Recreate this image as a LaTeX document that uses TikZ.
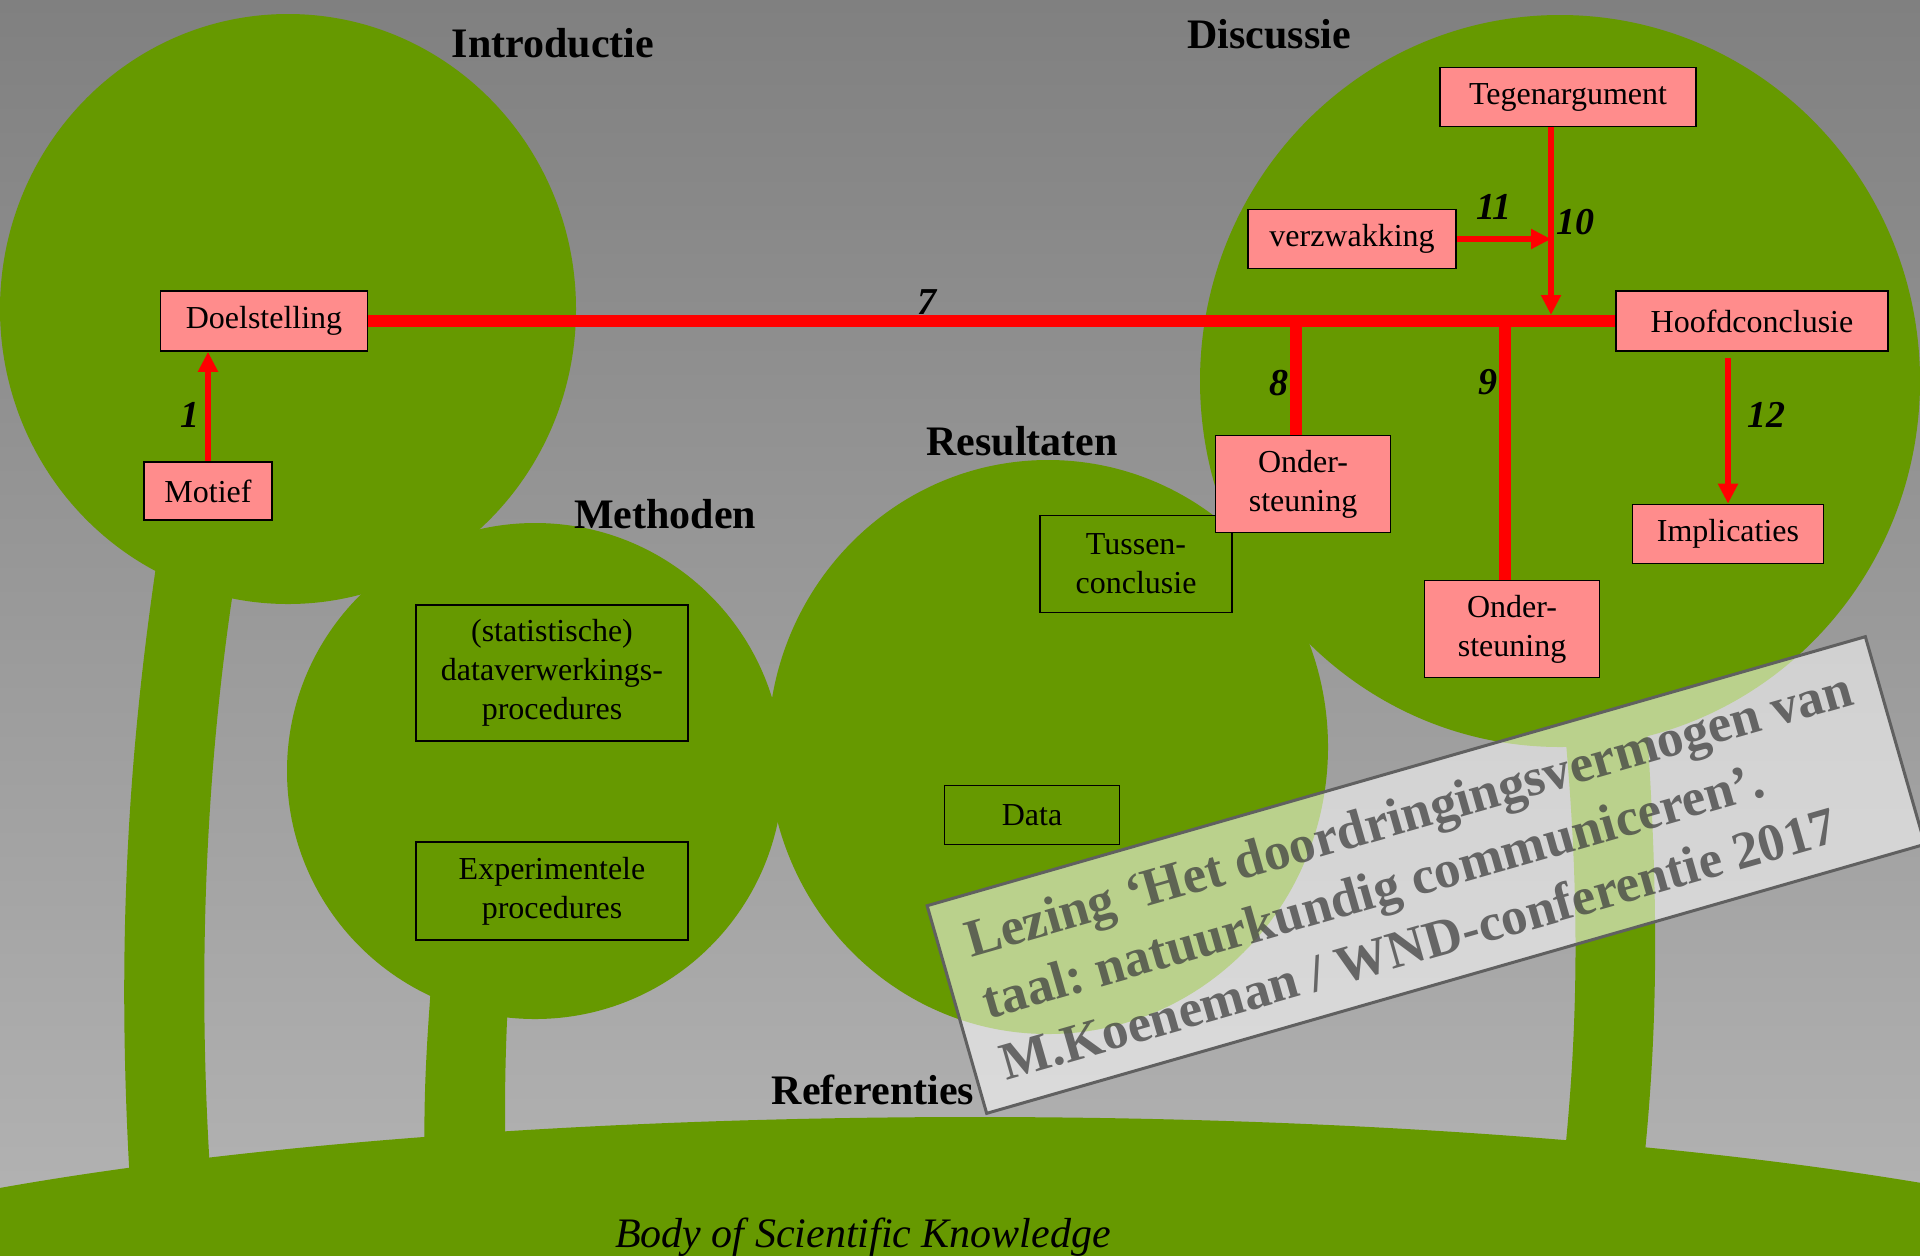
\documentclass[tikz,border=0pt]{standalone}
\usepackage{fontspec}
\setmainfont{Liberation Serif}
\usetikzlibrary{arrows.meta,calc}
\definecolor{leaf}{RGB}{102,153,0}
\definecolor{boxpink}{RGB}{255,140,140}
\definecolor{bgtop}{RGB}{128,128,128}
\definecolor{bgbot}{RGB}{180,180,180}
\definecolor{stamptext}{RGB}{64,64,64}
\definecolor{stampline}{RGB}{96,96,96}
\frenchspacing
\begin{document}
\begin{tikzpicture}[x=0.5pt,y=-0.5pt,
  sz/.style 2 args={minimum width=#1*0.5pt, minimum height=#2*0.5pt},
  pinkbox/.style={draw=black, line width=0.8pt, fill=boxpink, inner sep=0pt, align=center, font=\fontsize{16}{19.5}\selectfont},
  greenbox/.style={draw=black, line width=0.8pt, fill=leaf, inner sep=0pt, align=center, font=\fontsize{16}{19.5}\selectfont},
  header/.style={font=\fontsize{21}{25}\selectfont\bfseries, inner sep=0pt},
  num/.style={font=\fontsize{19}{22}\selectfont\bfseries\itshape, inner sep=0pt},
  thickred/.style={draw=red, line width=6pt},
  thinred/.style={draw=red, line width=3pt, -{Triangle[width=9.5pt,length=10pt]}},
  stampbox/.style={draw=stampline, line width=1.5pt, fill=white, fill opacity=0.55, text opacity=0.75, text=stamptext, align=left, inner xsep=10pt, font=\fontsize{26.5}{32}\selectfont\bfseries}
]
\useasboundingbox (0,0) rectangle (1920,1255);
\clip (0,0) rectangle (1920,1255);
\shade[top color=bgtop, bottom color=bgbot] (0,0) rectangle (1920,1255);

% crowns
\fill[leaf] (288,309) ellipse (288 and 295);
\fill[leaf] (1560,381) ellipse (360 and 366);
\fill[leaf] (535,771) ellipse (248 and 248);
\fill[leaf] (1048,747) ellipse (280 and 287);

% trunks
\fill[leaf] (160,540) .. controls (126,760) and (116,960) .. (131,1200) -- (212,1200) .. controls (196,980) and (205,760) .. (238,560) -- cycle;
\fill[leaf] (433,960) .. controls (426,1050) and (423,1100) .. (425,1180) -- (506,1180) .. controls (504,1100) and (505,1050) .. (510,960) -- cycle;
\fill[leaf] (1562,700) .. controls (1580,880) and (1580,1020) .. (1562,1180) -- (1642,1180) .. controls (1660,1020) and (1658,880) .. (1645,700) -- cycle;

% ground
\fill[leaf] (975,1347) ellipse (1350 and 230);

% nodes
\node[pinkbox, sz={207}{60}] (doel) at (264,321) {Doelstelling};
\node[pinkbox, sz={128}{58}] (mot) at (208,491) {Motief};
\node[pinkbox, sz={272}{60}] (hoof) at (1752,321) {Hoofdconclusie};
\node[pinkbox, sz={256}{59}] (teg) at (1568,97) {Tegenargument};
\node[pinkbox, sz={208}{59}] (verz) at (1352,239) {verzwakking};
\node[pinkbox, sz={191}{59}] (impl) at (1728,534) {Implicaties};
\node[greenbox, sz={192}{97}] (tus) at (1136,564) {Tussen-\\conclusie};
\node[greenbox, sz={272}{136}] (stat) at (552,673) {(statistische)\\dataverwerkings-\\procedures};
\node[greenbox, sz={272}{98}] (exp) at (552,891) {Experimentele\\procedures};
\node[greenbox, sz={175}{59}] (data) at (1032,815) {Data};
\coordinate (j10) at (1551,315);

% connectors
\draw[thickred] (doel.east) -- (hoof.west);
\node[pinkbox, sz={175}{97}] (o1) at (1303,484) {Onder-\\steuning};
\node[pinkbox, sz={175}{97}] (o2) at (1512,629) {Onder-\\steuning};
\draw[thickred] ([xshift=-3.5pt]o1.north) -- ([xshift=-3.5pt]o1.north |- doel.east);
\draw[thickred] ([xshift=-3.5pt]o2.north) -- ([xshift=-3.5pt]o2.north |- doel.east);
\draw[thinred] (mot.north) -- (mot.north |- doel.south);
\draw[thinred] (teg.south -| j10) -- (j10);
\draw[thinred] (verz.east) -- (verz.east -| j10);
\draw[thinred] ($(hoof.south -| impl.north)+(0,6)$) -- (impl.north);

% number labels
\node[num] (n1) at (190,415) {1};
\node[num] (n7) at (927,302) {7};
\node[num] (n8) at (1279,383) {8};
\node[num] (n9) at (1488,382) {9};
\node[num] (n10) at (1575,222) {10};
\node[num] (n11) at (1494,207) {11};
\node[num] (n12) at (1766,415) {12};

% headers
\node[header] (hi) at (553,43) {Introductie};
\node[header] (hd) at (1269,34) {Discussie};
\node[header] (hr) at (1022,441) {Resultaten};
\node[header] (hm) at (665,514) {Methoden};
\node[header] (href) at (873,1090) {Referenties};
\node[font=\fontsize{21}{25}\selectfont\itshape, inner sep=0pt, anchor=base] (body) at (863,1247) {Body of Scientific Knowledge};

% stamp
\node[stampbox, rotate=16, minimum width=488pt, minimum height=108pt] (stamp) at (1426,875)
  {Lezing ‘Het doordringingsvermogen van\\taal: natuurkundig communiceren’.\\M.Koeneman / WND-conferentie 2017};
\end{tikzpicture}
\end{document}
